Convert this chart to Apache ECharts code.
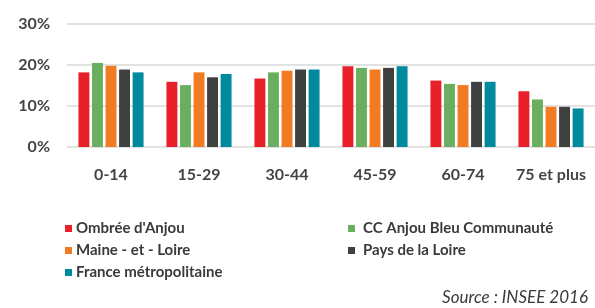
<!DOCTYPE html>
<html>
<head>
<meta charset="utf-8">
<script src="https://cdn.jsdelivr.net/npm/echarts@6/dist/echarts.min.js"></script>
<style>html,body{margin:0;padding:0;background:#fff;}#c{width:595px;height:308px;}</style>
</head>
<body>
<div id="c"></div>
<script>
const categories = ['0-14', '15-29', '30-44', '45-59', '60-74', '75 et plus'];
const seriesNames = ['Ombrée d\'Anjou', 'CC Anjou Bleu Communauté', 'Maine - et - Loire', 'Pays de la Loire', 'France métropolitaine'];
const ombree = [18.2, 15.9, 16.7, 19.7, 16.2, 13.6];
const ccAnjou = [20.5, 15.1, 18.2, 19.3, 15.4, 11.6];
const maine = [19.8, 18.2, 18.6, 18.9, 15.1, 9.8];
const paysLoire = [18.9, 17.0, 18.9, 19.3, 15.9, 9.8];
const france = [18.2, 17.8, 18.9, 19.7, 15.9, 9.4];
const yTicks = [0, 10, 20, 30];
const colors = ['#e8202a', '#6aaf5f', '#f07b22', '#404040', '#008a9e'];
const values = [ombree, ccAnjou, maine, paysLoire, france];

const font = 'Lato';
const chart = echarts.init(document.getElementById('c'), null, {renderer: 'canvas'});
chart.setOption({
  animation: false,
  color: colors,
  grid: {left: 67, right: 0, top: 24, bottom: 161},
  xAxis: {
    type: 'category', data: categories,
    axisLine: {show: false}, axisTick: {show: false},
    axisLabel: {interval: 0, hideOverlap: false, margin: 20, color: '#444', fontFamily: font, fontWeight: 'bold', fontSize: 16}
  },
  yAxis: {
    type: 'value', min: yTicks[0], max: yTicks[yTicks.length - 1], interval: 10,
    axisLine: {show: false}, axisTick: {show: false},
    splitLine: {lineStyle: {color: '#d9d9d9', width: 1.5}},
    axisLabel: {margin: 17, color: '#444', fontFamily: font, fontWeight: 'bold', fontSize: 16, formatter: '{value}%'}
  },
  legend: [
    {left: 60, top: 216, orient: 'vertical', itemWidth: 7, itemHeight: 7, itemGap: 7,
     icon: 'rect', data: [seriesNames[0], seriesNames[2], seriesNames[4]],
     textStyle: {color: '#3a3a3a', fontFamily: font, fontSize: 15, fontWeight: 'bold', padding: [0,0,0,-1]}},
    {left: 343, top: 216, orient: 'vertical', itemWidth: 7, itemHeight: 7, itemGap: 7,
     icon: 'rect', data: [seriesNames[1], seriesNames[3]],
     textStyle: {color: '#3a3a3a', fontFamily: font, fontSize: 15, fontWeight: 'bold', padding: [0,0,0,3]}}
  ],
  graphic: [{
    type: 'text', right: 7, top: 289,
    style: {text: 'Source : INSEE 2016', fontFamily: font, fontStyle: 'italic', fontSize: 17, fill: '#3a3a3a'}
  }],
  series: seriesNames.map((n, i) => ({
    name: n, type: 'bar', data: values[i],
    barGap: '24%', barCategoryGap: '26%'
  }))
});
</script>
</body>
</html>
